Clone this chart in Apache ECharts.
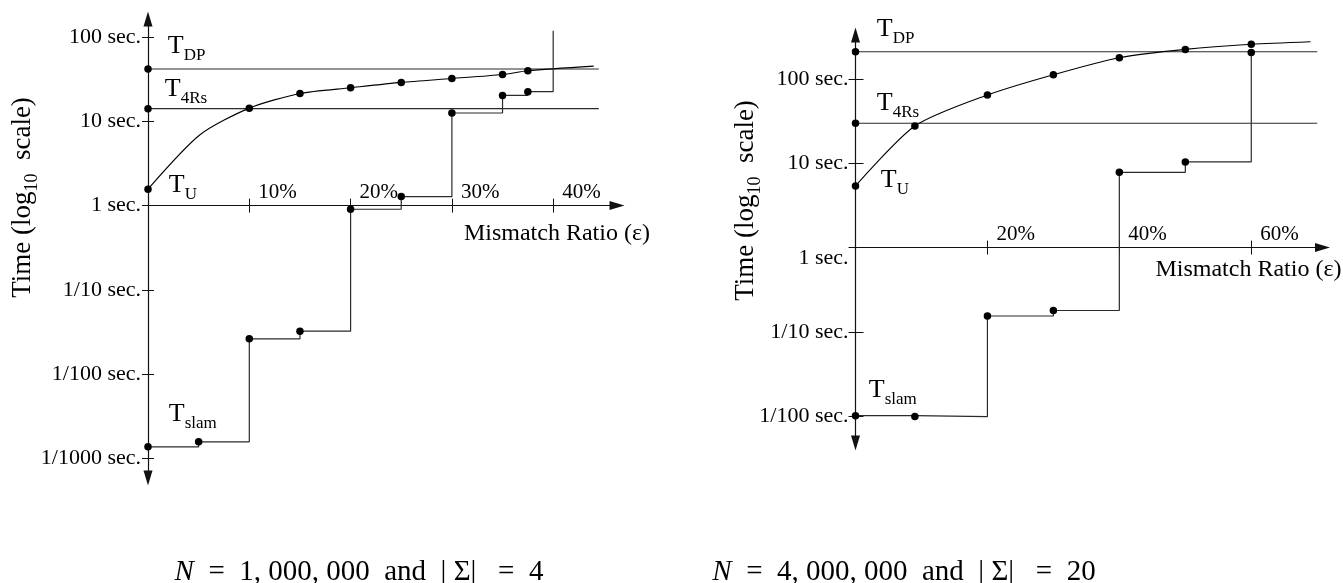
<!DOCTYPE html>
<html>
<head>
<meta charset="utf-8">
<script src="https://cdn.jsdelivr.net/npm/echarts@6/dist/echarts.min.js"></script>
<style>
  html, body { margin: 0; padding: 0; background: #fff; }
  #main { width: 1343px; height: 583px; }
</style>
</head>
<body>
<div id="main"></div>
<script>
// ---- left panel: N = 1,000,000 and |Σ| = 4 ----
const leftSlamRatio = [0, 5, 10, 15, 20, 25, 30, 35, 37.5, 40];
const leftSlamTime = [0.00136, 0.00156, 0.0261, 0.0322, 0.905, 1.28, 12.6, 20.4, 22.6, 120];
const leftSlamDot = [1, 1, 1, 1, 1, 1, 1, 1, 1, 0];
const leftURatio = [0, 5.1, 10, 15, 20, 25, 30, 35, 37.5, 44];
const leftUTime = [1.57, 6.9, 14.4, 21.5, 25.1, 29.1, 32.4, 36.2, 40, 45.4];
const leftUDot = [1, 0, 1, 1, 1, 1, 1, 1, 1, 0];
const leftDP = 42;
const left4Rs = 14.2;
const leftLineEnd = 44.5;
const leftXRange = [0, 46.3];
const leftYRange = [0.00058, 165];
const leftXTicks = [0, 40, 10]; // min, max, step
const leftYTicks = [0.001, 100];

// ---- right panel: N = 4,000,000 and |Σ| = 20 ----
const rightSlamRatio = [0, 9, 20, 30, 40, 50, 60];
const rightSlamTime = [0.0101, 0.00985, 0.154, 0.179, 7.83, 10.4, 207];
const rightSlamDot = [1, 1, 1, 1, 1, 1, 1];
const rightURatio = [0, 9, 20, 30, 40, 50, 60, 69];
const rightUTime = [5.4, 27.8, 64.9, 113, 180, 226, 260, 279];
const rightUDot = [1, 1, 1, 1, 1, 1, 1, 0];
const rightDP = 212;
const right4Rs = 30;
const rightLineEnd = 70;
const rightXRange = [0, 70.8];
const rightYRange = [0.00478, 335];
const rightXTicks = [0, 60, 20];
const rightYTicks = [0.01, 100];

const yTickText = ['1/1000 sec.', '1/100 sec.', '1/10 sec.', '1 sec.', '10 sec.', '100 sec.'];
const captions = ['{i|N}  =  1, 000, 000  and  | Σ|   =  4', '{i|N}  =  4, 000, 000  and  | Σ|   =  20'];

const FONT = "'Liberation Serif', 'DejaVu Serif', serif";
const INK = '#111';
const lineStyle = { color: '#2a2a2a', width: 1.2 };
const tRich = {
  t: { fontSize: 26, lineHeight: 26, verticalAlign: 'top', fontFamily: FONT, color: '#000' },
  s: { fontSize: 17, lineHeight: 31, verticalAlign: 'bottom', fontFamily: FONT, color: '#000' }
};

const panels = [
  {
    box: { left: 148, top: 19, width: 469, height: 459 },
    xRange: leftXRange, yRange: leftYRange, xTicks: leftXTicks, yTicks: leftYTicks,
    slam: [leftSlamRatio, leftSlamTime, leftSlamDot], u: [leftURatio, leftUTime, leftUDot],
    dp: leftDP, r4: left4Rs, lineEnd: leftLineEnd,
    tickOut: 6, tickIn: 6, oneSecPad: 0, nameGap: 107, namePad: 102, xNameGap: 33, xNamePad: 16,
    tl: { dp: [23.5, -32], r4: [20.5, -29], u: [24.5, -13.5], slam: [24.5, -42] },
    caption: 359
  },
  {
    box: { left: 855.5, top: 35, width: 467, height: 408 },
    xRange: rightXRange, yRange: rightYRange, xTicks: rightXTicks, yTicks: rightYTicks,
    slam: [rightSlamRatio, rightSlamTime, rightSlamDot], u: [rightURatio, rightUTime, rightUDot],
    dp: rightDP, r4: right4Rs, lineEnd: rightLineEnd,
    tickOut: 7, tickIn: 8, oneSecPad: 21, nameGap: 91, namePad: 77, xNameGap: 19, xNamePad: 10,
    tl: { dp: [25, -31.5], r4: [25, -29], u: [29, -15], slam: [17, -34.5] },
    caption: 904
  }
];

const lg = Math.log10;
const grid = [], xAxis = [], yAxis = [], series = [], graphic = [];

function tLabel(sub, pos) {
  return { show: true, position: pos, formatter: '{t|T}{s|' + sub + '}', rich: tRich };
}

function dotted(xs, ys, marks, labelItem) {
  return xs.map((x, i) => {
    const item = { value: [x, ys[i]], symbol: marks[i] ? 'circle' : 'none' };
    if (i === 0 && labelItem) item.label = labelItem;
    return item;
  });
}

panels.forEach((p, k) => {
  const b = p.box;
  const span = lg(p.yRange[1]) - lg(p.yRange[0]);
  const tickSpan = lg(p.yTicks[1]) - lg(p.yTicks[0]);
  const gMain = grid.length;
  grid.push({ left: b.left, top: b.top, width: b.width, height: b.height, outerBoundsMode: 'none' });
  const tb = {
    left: b.left,
    width: b.width * p.xTicks[1] / p.xRange[1],
    top: b.top + b.height * (lg(p.yRange[1]) - lg(p.yTicks[1])) / span,
    height: b.height * tickSpan / span
  };
  const gTick = grid.length;
  grid.push(Object.assign({ outerBoundsMode: 'none' }, tb));

  // main axes: lines with arrows only
  const xMain = xAxis.length;
  xAxis.push({
    gridIndex: gMain, type: 'value', min: p.xRange[0], max: p.xRange[1],
    position: 'bottom', offset: -b.height * (0 - lg(p.yRange[0])) / span,
    axisLine: { show: true, onZero: false, symbol: ['none', 'triangle'], symbolSize: [9, 15], lineStyle: { color: INK, width: 1.2 } },
    axisTick: { show: false }, axisLabel: { show: false }, splitLine: { show: false },
    name: 'Mismatch Ratio (ε)', nameLocation: 'end', nameGap: p.xNameGap,
    nameTextStyle: { fontFamily: FONT, fontSize: 24, lineHeight: 24, color: '#000', align: 'right', verticalAlign: 'top', padding: [p.xNamePad, 0, 0, 0] }
  });
  const yMain = yAxis.length;
  yAxis.push({
    gridIndex: gMain, type: 'log', logBase: 10, min: p.yRange[0], max: p.yRange[1], position: 'left',
    axisLine: { show: true, onZero: false, symbol: ['triangle', 'triangle'], symbolSize: [9, 15], lineStyle: { color: INK, width: 1.2 } },
    axisTick: { show: false }, axisLabel: { show: false }, splitLine: { show: false },
    name: '{a|Time (log}{s|10}{a|  scale)}', nameLocation: 'middle', nameGap: p.nameGap,
    nameTextStyle: {
      fontFamily: FONT, color: '#000', padding: [0, 0, 0, p.namePad],
      rich: {
        a: { fontSize: 27, lineHeight: 27, verticalAlign: 'top', fontFamily: FONT, color: '#000' },
        s: { fontSize: 18, lineHeight: 32, verticalAlign: 'bottom', fontFamily: FONT, color: '#000' }
      }
    }
  });

  // tick axes: both-sided ticks and labels
  const xOff = -tb.height * (0 - lg(p.yTicks[0])) / tickSpan;
  [false, true].forEach(inside => {
    xAxis.push({
      gridIndex: gTick, type: 'value', min: p.xTicks[0], max: p.xTicks[1], interval: p.xTicks[2],
      position: 'bottom', offset: xOff,
      axisLine: { show: false, onZero: false },
      axisTick: { show: true, inside: inside, length: 7, lineStyle: { color: INK, width: 1 } },
      axisLabel: {
        show: inside, inside: true, margin: 3, align: 'left', padding: [0, 0, 0, 9],
        fontFamily: FONT, fontSize: 21, color: '#000',
        formatter: v => (v === 0 ? '' : v + '%')
      },
      splitLine: { show: false }
    });
    yAxis.push({
      gridIndex: gTick, type: 'log', logBase: 10, min: p.yTicks[0], max: p.yTicks[1], position: 'left',
      axisLine: { show: false, onZero: false },
      axisTick: { show: true, inside: inside, length: inside ? p.tickIn : p.tickOut, lineStyle: { color: INK, width: 1 } },
      axisLabel: {
        show: !inside, margin: 7, fontFamily: FONT, fontSize: 22, color: '#000',
        formatter: v => {
          const e = Math.round(lg(v));
          const txt = yTickText[e + 3];
          return e === 0 && p.oneSecPad ? '{low|' + txt + '}' : txt;
        },
        rich: { low: { padding: [p.oneSecPad, 0, 0, 0], fontFamily: FONT, fontSize: 22, color: '#000' } }
      },
      splitLine: { show: false }
    });
  });

  const common = {
    type: 'line', xAxisIndex: xMain, yAxisIndex: yMain, symbolSize: 7.5,
    itemStyle: { color: '#000' }, lineStyle: lineStyle, silent: true, animation: false
  };
  series.push(Object.assign({}, common, {
    name: 'T_DP',
    data: dotted([0, p.lineEnd], [p.dp, p.dp], [1, 0], tLabel('DP', p.tl.dp))
  }));
  series.push(Object.assign({}, common, {
    name: 'T_4Rs',
    data: dotted([0, p.lineEnd], [p.r4, p.r4], [1, 0], tLabel('4Rs', p.tl.r4))
  }));
  series.push(Object.assign({}, common, {
    name: 'T_U', smooth: 0.25,
    lineStyle: { color: '#000', width: 1.1 },
    data: dotted(p.u[0], p.u[1], p.u[2], tLabel('U', p.tl.u))
  }));
  series.push(Object.assign({}, common, {
    name: 'T_slam', step: 'end',
    data: dotted(p.slam[0], p.slam[1], p.slam[2], tLabel('slam', p.tl.slam))
  }));

  graphic.push({
    type: 'text', x: p.caption, y: 558,
    style: {
      text: captions[k], align: 'center', verticalAlign: 'top',
      font: '29px ' + FONT, fill: '#000',
      rich: { i: { fontStyle: 'italic', fontSize: 29, fontFamily: FONT, color: '#000' } }
    }
  });
});

const chart = echarts.init(document.getElementById('main'));
chart.setOption({
  animation: false,
  backgroundColor: '#fff',
  grid: grid,
  xAxis: xAxis,
  yAxis: yAxis,
  series: series,
  graphic: graphic
});
</script>
</body>
</html>
